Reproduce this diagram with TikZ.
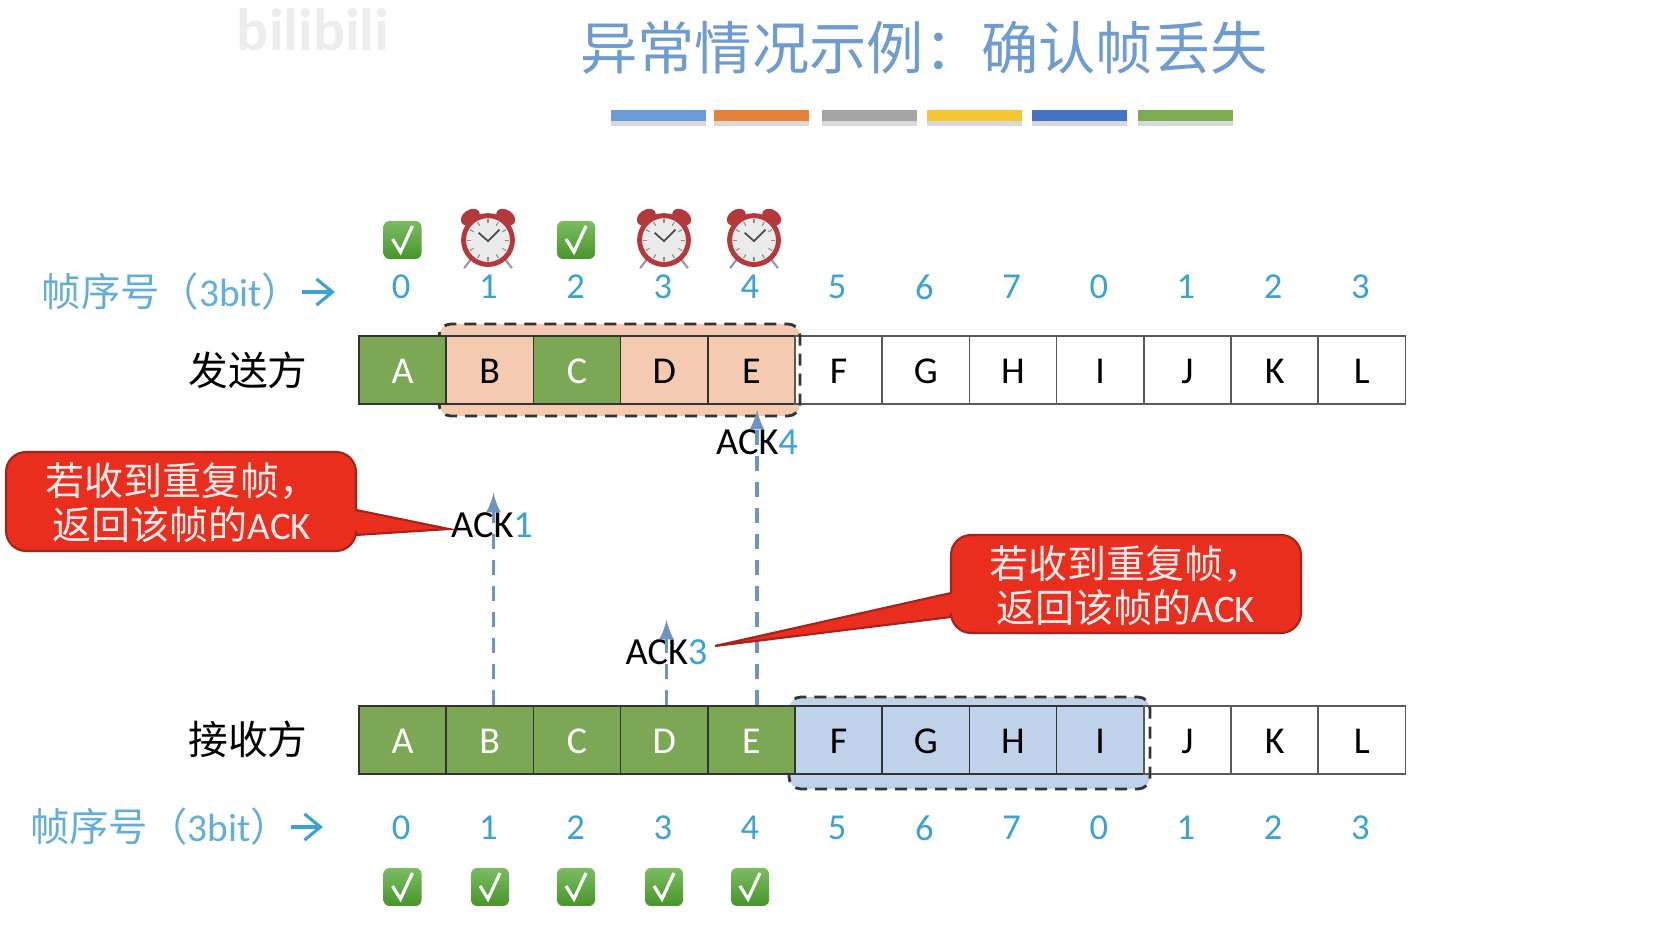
\documentclass[tikz,border=0pt]{standalone}
\usepackage{fontspec}
\setmainfont{Carlito}
\newfontfamily\cjk{Noto Sans CJK SC}
\usetikzlibrary{arrows.meta,shadows}
\definecolor{titleblue}{HTML}{6E9BD0}
\definecolor{numblue}{HTML}{3BA2D6}
\definecolor{labelblue}{HTML}{62AEDB}
\definecolor{ackblue}{HTML}{6F93C3}
\definecolor{cellgreen}{HTML}{7CA855}
\definecolor{cellpeach}{HTML}{F4CBB0}
\definecolor{cellblue}{HTML}{C0D2EA}
\definecolor{alertred}{HTML}{EA2E1E}
\definecolor{alertedge}{HTML}{A5231A}
\definecolor{checkgreen}{HTML}{4FA62F}
\definecolor{clockred}{HTML}{B5393B}
\tikzset{
  cellbase/.style={draw=black!80,line width=0.5pt,minimum width=0.872cm,minimum height=0.683cm,inner sep=0pt,text height=0.3cm,text depth=0.025cm,font=\fontsize{10.8}{12}\selectfont},
  greencell/.style={cellbase,fill=cellgreen,text=white},
  peachcell/.style={cellbase},
  bluecell/.style={cellbase},
  whitecell/.style={cellbase,draw=black!65,fill=white},
  seqnum/.style={text=numblue,inner sep=0pt,font=\fontsize{10.4}{12}\selectfont},
  seqlabel/.style={text=labelblue,inner sep=0pt,font=\fontsize{11.2}{13}\selectfont},
  seqarrow/.style={-{Straight Barb[length=1.6mm,width=2.6mm]},numblue,line width=0.9pt},
  sidelabel/.style={inner sep=0pt,font=\cjk\fontsize{11.3}{13}\selectfont},
  acklabel/.style={inner sep=0pt,font=\fontsize{10.9}{12}\selectfont},
  ackline/.style={->,>=latex,ackblue,line width=0.9pt,dash pattern=on 0.15cm off 0.11cm},
  alertbox/.style={draw=alertedge,line width=0.6pt,fill=alertred},
  alerttext/.style={align=center,inner sep=0pt,text=red!8!white,font=\fontsize{11.1}{12.6}\selectfont},
  colorbar/.style={minimum width=0.95cm,minimum height=0.11cm,inner sep=0pt,drop shadow={shadow xshift=0pt,shadow yshift=-1.2pt,opacity=0.3}},
  windowfill/.style={rounded corners=0.12cm},
  windowline/.style={draw=black!80,line width=0.8pt,dash pattern=on 0.12cm off 0.08cm,rounded corners=0.12cm},
  checkicon/.pic={
    \shade[top color=checkgreen!75!white,bottom color=checkgreen!90!black,rounded corners=0.06cm](-0.19,-0.19)rectangle(0.19,0.19);
    \draw[white,line width=0.9pt](-0.1,0.01)--(-0.02,-0.12)--(0.1,0.14);
  },
  clockicon/.pic={
    \fill[clockred](-0.17,0.2)ellipse[x radius=0.1,y radius=0.07,rotate=35];
    \fill[clockred](0.17,0.2)ellipse[x radius=0.1,y radius=0.07,rotate=-35];
    \draw[black!40,line width=0.6pt](-0.16,-0.2)--(-0.23,-0.29);
    \draw[black!40,line width=0.6pt](0.16,-0.2)--(0.23,-0.29);
    \draw[clockred,fill=black!8,line width=1.4pt](0,-0.02)circle(0.235);
    \foreach \a in {0,30,...,330}{\draw[black!45,line width=0.3pt](\a:0.16)++(0,-0.02)--++(\a:0.04);}
    \draw[black!70,line width=0.5pt](0.11,0.08)--(0,-0.03)--(-0.09,0.05);
  }
}
\begin{document}
\begin{tikzpicture}
\useasboundingbox (0,0) rectangle (16.54,9.44);
\node[text=black!7,inner sep=0pt,font=\bfseries\fontsize{17}{19}\selectfont] (wm) at (3.13,9.14){bilibili};
% title
\node[text=titleblue,inner sep=0pt,font=\cjk\fontsize{16.3}{18}\selectfont] (title) at (9.24,8.96){异常情况示例：确认帧丢失};
\foreach \c/\x [count=\i] in {6A9BD8/6.585,E4823A/7.615,A5A5A5/8.695,F5C534/9.745,4472C4/10.795,7CAC50/11.855}{
  \definecolor{barcolor}{HTML}{\c}
  \node[colorbar,fill=barcolor] (bar\i) at (\x,8.28){};
}
% sender row
\fill[cellpeach,windowfill](4.39,5.28)rectangle(8.0,6.2);
\foreach \c/\s [count=\i] in {B/peachcell,C/greencell,D/peachcell,E/peachcell,F/whitecell,G/whitecell,H/whitecell,I/whitecell,J/whitecell,K/whitecell,L/whitecell}{
  \node[\s] (s\c) at ({4.026+0.872*\i},5.74){\c};
}
\draw[windowline](4.39,5.28)rectangle(8.0,6.2);
\node[greencell] (sA) at (4.026,5.74){A};
\node[sidelabel] (sender) at (2.48,5.74){发送方};
% receiver row
\fill[cellblue,windowfill](7.89,1.55)rectangle(11.5,2.47);
\foreach \c/\s [count=\i from 5] in {F/bluecell,G/bluecell,H/bluecell,I/bluecell,J/whitecell,K/whitecell,L/whitecell}{
  \node[\s] (r\c) at ({4.026+0.872*\i},2.04){\c};
}
\draw[windowline](7.89,1.55)rectangle(11.5,2.47);
\foreach \c [count=\i from 0] in {A,B,C,D,E}{
  \node[greencell] (r\c) at ({4.026+0.872*\i},2.04){\c};
}
\node[sidelabel] (receiver) at (2.48,2.05){接收方};
% frame numbers
\foreach \n [count=\i from 0] in {0,1,2,3,4,5,6,7,0,1,2,3}{
  \node[seqnum] (top\i) at ({4.012+0.872*\i},6.57){\n};
  \node[seqnum] (bot\i) at ({4.012+0.872*\i},1.16){\n};
}
\node[seqlabel] (toplabel) at (1.715,6.52){{\cjk 帧序号（}3bit{\cjk ）}};
\coordinate (ta) at (3.02,6.52);
\coordinate (tb) at (3.35,6.52);
\draw[seqarrow](ta)--(tb);
\node[seqlabel] (botlabel) at (1.6,1.17){{\cjk 帧序号（}3bit{\cjk ）}};
\coordinate (ba) at (2.91,1.17);
\coordinate (bb) at (3.23,1.17);
\draw[seqarrow](ba)--(bb);
% icons
\pic at (4.025,7.04){checkicon};
\pic[scale=1.04] at (4.88,7.06){clockicon};
\pic at (5.76,7.04){checkicon};
\pic[scale=1.04] at (6.64,7.06){clockicon};
\pic[scale=1.04] at (7.54,7.06){clockicon};
\foreach \x in {4.025,4.9,5.76,6.64,7.5}{\pic at (\x,0.57){checkicon};}
% acks
\node[acklabel] (ack1) at (4.92,4.19){ACK\textcolor{numblue}{1}};
\node[acklabel] (ack3) at (6.665,2.92){ACK\textcolor{numblue}{3}};
\node[acklabel] (ack4) at (7.57,5.02){ACK\textcolor{numblue}{4}};
\coordinate (ack1top) at (4.935,4.51);
\coordinate (ack3top) at (6.665,3.24);
\coordinate (ack4top) at (7.57,5.34);
\draw[ackline](rB.north-|ack1top)--(ack1top);
\draw[ackline](rD.north-|ack3top)--(ack3top);
\draw[ackline](rE.north-|ack4top)--(ack4top);
% callouts
\coordinate (lefttip) at (4.49,4.15);
\coordinate (righttip) at (7.15,2.98);
\draw[alertbox,rounded corners=0.2cm](2,3.93)--(0.06,3.93)--(0.06,4.92)--(3.56,4.92)[sharp corners]--(3.56,4.34)--(lefttip)--(3.56,4.09)[rounded corners=0.2cm]--(3.56,3.93)--cycle;
\node[alerttext] (leftnote) at (1.82,4.41){{\cjk 若收到重复帧，}\\{\cjk 返回该帧的}ACK};
\draw[alertbox,rounded corners=0.2cm](11,3.11)--(13.01,3.11)--(13.01,4.09)--(9.51,4.09)[sharp corners]--(9.51,3.51)--(righttip)--(9.51,3.27)[rounded corners=0.2cm]--(9.51,3.11)--cycle;
\node[alerttext] (rightnote) at (11.26,3.58){{\cjk 若收到重复帧，}\\{\cjk 返回该帧的}ACK};
\end{tikzpicture}
\end{document}
